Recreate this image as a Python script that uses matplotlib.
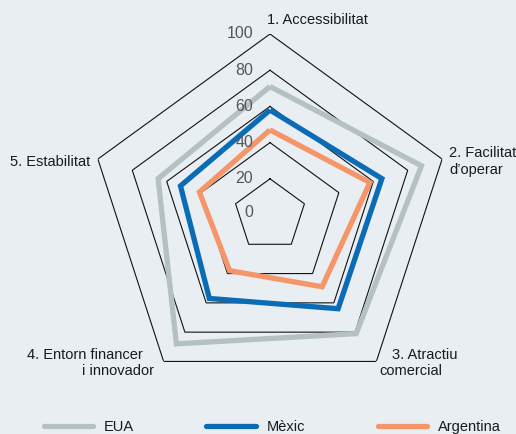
import numpy as np
import matplotlib
matplotlib.use("Agg")
import matplotlib.pyplot as plt
from matplotlib.lines import Line2D

plt.rcParams['font.family'] = ['Liberation Sans', 'DejaVu Sans']

categories = ["1. Accessibilitat", "2. Facilitat d’operar", "3. Atractiu comercial",
              "4. Entorn financer i innovador", "5. Estabilitat"]
series_names = ["EUA", "Mèxic", "Argentina"]
eua = [71, 88, 81, 88, 65]
mexic = [58, 65, 64, 57, 52]
argentina = [47, 58, 49, 38, 41]
grid_levels = [0, 20, 40, 60, 80, 100]

colors = ["#b4c0c1", "#0a6cb4", "#f5956a"]
bg = "#e9eef3"

W, H = 516, 434
fig = plt.figure(figsize=(W / 100, H / 100), dpi=100, facecolor=bg)
cx, cy, R = 270, 215, 181
ax = fig.add_axes([(cx - R) / W, (H - cy - R) / H, 2 * R / W, 2 * R / H], projection='polar')
ax.set_theta_offset(np.pi / 2)
ax.set_theta_direction(-1)
ax.set_ylim(0, 100)
ax.patch.set_visible(False)
ax.spines['polar'].set_visible(False)
ax.grid(False)
ax.set_xticks([])
ax.set_yticks([])

n = len(categories)
angles = np.linspace(0, 2 * np.pi, n, endpoint=False)
ang_c = np.concatenate([angles, angles[:1]])

for lvl in grid_levels[1:]:
    ax.plot(ang_c, [lvl] * (n + 1), color="#111111", lw=0.8, zorder=1,
            solid_joinstyle='miter')

for vals, col, name in zip([eua, mexic, argentina], colors, series_names):
    v = np.concatenate([vals, vals[:1]])
    ax.plot(ang_c, v, color=col, lw=3.8, zorder=3, solid_joinstyle='miter',
            solid_capstyle='butt', label=name)

for lvl in grid_levels:
    ax.annotate(str(lvl), xy=(0, lvl), xytext=(-17, 0 if lvl else 2), textcoords='offset pixels',
                ha='right', va='center', fontsize=11.5, color="#555555")

tc = "#1a1a1a"
fs = 10.5
def ft(x, y, s, ha='left'):
    fig.text(x / W, 1 - y / H, s, ha=ha, va='center', fontsize=fs, color=tc)

ft(267, 20, "1. Accessibilitat")
ft(449, 153, "2. Facilitat")
ft(449, 170, "d’operar")
ft(392, 355, "3. Atractiu")
ft(379, 371, "comercial")
ft(143, 355, "4. Entorn financer", ha='right')
ft(154, 371, "i innovador", ha='right')
ft(10, 162, "5. Estabilitat")

handles = [Line2D([0], [0], color=c, lw=3.8, solid_capstyle='round') for c in colors]
leg = fig.legend(handles, series_names, loc='center', bbox_to_anchor=(272 / W, 1 - 427 / H),
                 ncol=3, frameon=False, fontsize=fs, handlelength=3.4, handletextpad=0.7,
                 columnspacing=5.0, labelcolor=tc)

fig.savefig("out.png", dpi=100, facecolor=bg)
